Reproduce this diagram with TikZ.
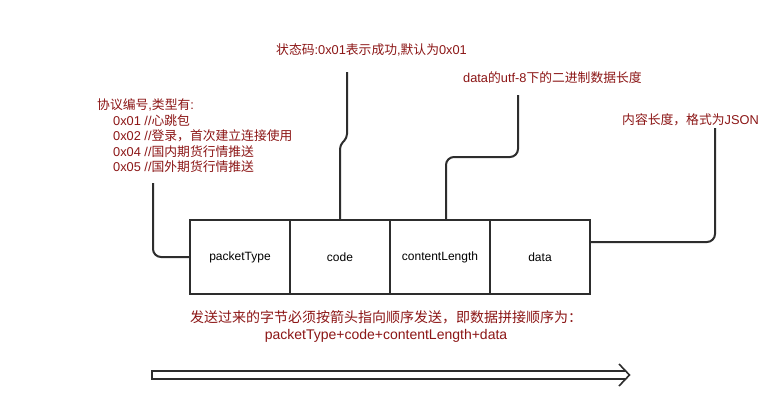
\documentclass[tikz,border=0pt]{standalone}
\usepackage{fontspec}
\setmainfont{Liberation Sans}
\newfontfamily\cjk{Noto Sans CJK SC}
\definecolor{txtred}{RGB}{140,22,22}
\definecolor{ln}{RGB}{45,45,45}
\begin{document}
\begin{tikzpicture}[x=1pt,y=-1pt,
  lbl/.style={text=txtred, font=\fontsize{12.8}{15.5}\selectfont, inner sep=0pt, anchor=west, align=left},
  cell/.style={draw=ln, line width=1.8pt, minimum width=100pt, minimum height=74pt, inner sep=0pt, font=\fontsize{12}{14}\selectfont},
  conn/.style={draw=ln, line width=2pt, rounded corners=8pt},
  bigarrow/.style={draw=ln, line width=1.6pt, line join=miter}]
\useasboundingbox[fill=white] (0,0) rectangle (769,405);

% cells
\node[cell] (p)  at (240,257) {packetType};
\node[cell] (c)  at (340,257) {code};
\node[cell] (cl) at (440,257) {contentLength};
\node[cell] (d)  at (540,257) {data};

% labels
\node[lbl] (L1) at (97,136) {{\cjk 协议编号},{\cjk 类型有}:\\
\hspace*{16pt}0x01 //{\cjk 心跳包}\\
\hspace*{16pt}0x02 //{\cjk 登录，首次建立连接使用}\\
\hspace*{16pt}0x04 //{\cjk 国内期货行情推送}\\
\hspace*{16pt}0x05 //{\cjk 国外期货行情推送}};
\node[lbl] (L2) at (276,50) {{\cjk 状态码}:0x01{\cjk 表示成功},{\cjk 默认为}0x01};
\node[lbl] (L3) at (463,78) {data{\cjk 的}utf-8{\cjk 下的二进制数据长度}};
\node[lbl] (L4) at (622,120) {{\cjk 内容长度，格式为}JSON};
\node[text=txtred, inner sep=0pt, align=center, font=\fontsize{14}{17}\selectfont] (B) at (386,326.5)
  {{\cjk 发送过来的字节必须按箭头指向顺序发送，即数据拼接顺序为：}\\packetType+code+contentLength+data};

% connector ends
\coordinate (e1) at (153,183);
\coordinate (e2) at (347,72);
\coordinate (e3) at (518,95);
\coordinate (e4) at (715,128);

\draw[conn] (p.west) -| (e1);
\draw[conn, rounded corners=4pt] (c.north) -- (340,145) -- (347,138) -- (e2);
\draw[conn] ([xshift=6pt]cl.north) -- (446,157) -- (518,157) -- (e3);
\draw[conn] ([yshift=15pt]d.east) -| (e4);

% big hollow arrow
\draw[bigarrow] (625.5,371) -- (152,371) -- (152,379) -- (625.5,379);
\draw[bigarrow] (619,364) -- (629.5,375) -- (619,386);
\end{tikzpicture}
\end{document}
